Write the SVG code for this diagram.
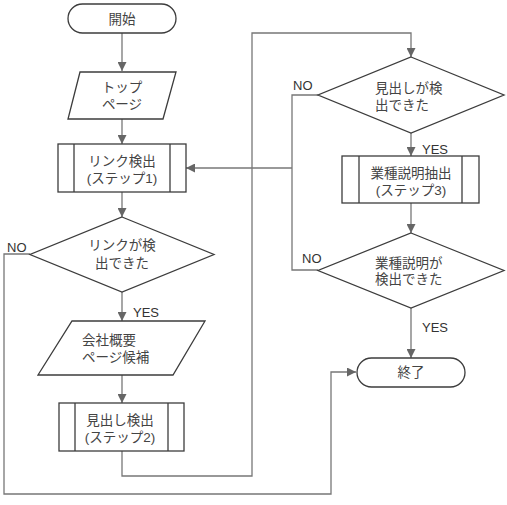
<svg xmlns="http://www.w3.org/2000/svg" width="507" height="505" viewBox="0 0 507 505">
<style>
.shape{fill:#fff;stroke:#3c3c3c;stroke-width:1.3}
.inner{fill:none;stroke:#3c3c3c;stroke-width:1.3}
.conn{fill:none;stroke:#777;stroke-width:1.3}
text{font-family:"Liberation Sans","Noto Sans CJK JP",sans-serif;font-size:13.5px;fill:#444}
.c{text-anchor:middle}
.lbl{font-family:"Liberation Sans",Arial,sans-serif;font-size:13px;fill:#333}
</style>
<defs>
<marker id="arr" viewBox="0 0 10 10" refX="10" refY="5" markerWidth="9" markerHeight="9" markerUnits="userSpaceOnUse" orient="auto">
<path d="M0,0 L10,5 L0,10 z" fill="#666"/>
</marker>
</defs>
<rect width="507" height="505" fill="#fff"/>
<g id="connectors">
<line class="conn" x1="122" y1="33" x2="122" y2="71" marker-end="url(#arr)"/>
<line class="conn" x1="122" y1="119" x2="122" y2="144" marker-end="url(#arr)"/>
<line class="conn" x1="122" y1="192" x2="122" y2="217" marker-end="url(#arr)"/>
<line class="conn" x1="122" y1="292" x2="122" y2="321" marker-end="url(#arr)"/>
<line class="conn" x1="122" y1="375" x2="122" y2="403" marker-end="url(#arr)"/>
<polyline class="conn" points="122,451 122,476 252,476 252,33 411,33 411,57" marker-end="url(#arr)"/>
<line class="conn" x1="411" y1="133" x2="411" y2="156" marker-end="url(#arr)"/>
<line class="conn" x1="411" y1="203" x2="411" y2="233" marker-end="url(#arr)"/>
<line class="conn" x1="411" y1="308" x2="411" y2="358" marker-end="url(#arr)"/>
<polyline class="conn" points="318,95 292,95 292,270 318,270"/>
<line class="conn" x1="292" y1="168" x2="186" y2="168" marker-end="url(#arr)"/>
<polyline class="conn" points="30,254 4,254 4,494 331,494 331,372 356,372" marker-end="url(#arr)"/>
<text class="lbl" x="7" y="252">NO</text>
<text class="lbl" x="133" y="317">YES</text>
<text class="lbl" x="293" y="90">NO</text>
<text class="lbl" x="422" y="154">YES</text>
<text class="lbl" x="302" y="263">NO</text>
<text class="lbl" x="422" y="332">YES</text>
</g>
<g id="start">
<rect class="shape" x="68" y="4" width="108" height="29" rx="14.5"/>
<text class="c" x="122" y="23.5">開始</text>
</g>
<g id="toppage">
<polygon class="shape" points="80,72 176,72 163,119 68,119"/>
<text class="c" x="122" y="92">トップ</text>
<text class="c" x="122" y="109">ページ</text>
</g>
<g id="step1">
<rect class="shape" x="58" y="144" width="128" height="48"/>
<line class="inner" x1="74" y1="144" x2="74" y2="192"/>
<line class="inner" x1="170" y1="144" x2="170" y2="192"/>
<text class="c" x="122" y="166">リンク検出</text>
<text class="c" x="122" y="183">(ステップ1)</text>
</g>
<g id="dec1">
<polygon class="shape" points="122,217 214,254.5 122,292 30,254.5"/>
<text class="c" x="122" y="250">リンクが検</text>
<text class="c" x="122" y="268">出できた</text>
</g>
<g id="candidate">
<polygon class="shape" points="72,321 205,321 173,375 38,375"/>
<text x="82" y="345">会社概要</text>
<text x="82" y="362">ページ候補</text>
</g>
<g id="step2">
<rect class="shape" x="59" y="403" width="125" height="48"/>
<line class="inner" x1="75" y1="403" x2="75" y2="451"/>
<line class="inner" x1="168" y1="403" x2="168" y2="451"/>
<text class="c" x="120" y="425">見出し検出</text>
<text class="c" x="120" y="442">(ステップ2)</text>
</g>
<g id="dec2">
<polygon class="shape" points="411,57 504,95 411,133 318,95"/>
<text x="375" y="93">見出しが検</text>
<text x="375" y="110">出できた</text>
</g>
<g id="step3">
<rect class="shape" x="342" y="156" width="137" height="47"/>
<line class="inner" x1="359" y1="156" x2="359" y2="203"/>
<line class="inner" x1="462" y1="156" x2="462" y2="203"/>
<text class="c" x="411" y="178">業種説明抽出</text>
<text class="c" x="411" y="195">(ステップ3)</text>
</g>
<g id="dec3">
<polygon class="shape" points="411,233 504,270.5 411,308 318,270.5"/>
<text x="375" y="268">業種説明が</text>
<text x="375" y="284">検出できた</text>
</g>
<g id="end">
<rect class="shape" x="357" y="358" width="108" height="29" rx="14.5"/>
<text class="c" x="411" y="377">終了</text>
</g>
</svg>
